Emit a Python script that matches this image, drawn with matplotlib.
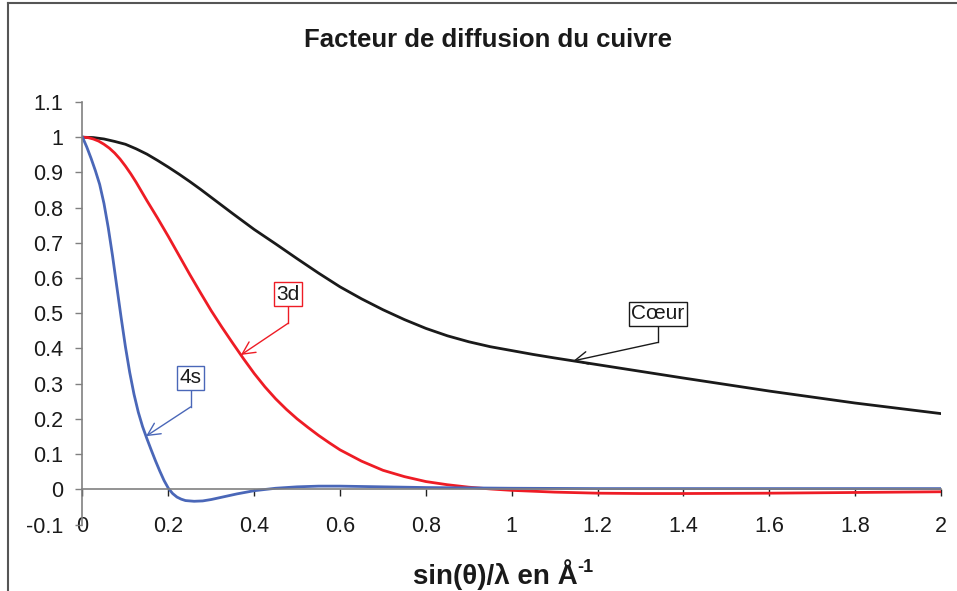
import numpy as np
import matplotlib
matplotlib.use("Agg")
import matplotlib.pyplot as plt
from matplotlib.lines import Line2D

plt.rcParams["font.family"] = ["Liberation Sans", "DejaVu Sans"]

# --- Data ---
x_coeur = [0, 0.025, 0.05, 0.075, 0.1, 0.125, 0.15, 0.175, 0.2, 0.225, 0.25,
           0.275, 0.3, 0.35, 0.4, 0.45, 0.5, 0.55, 0.6, 0.65, 0.7, 0.75, 0.8,
           0.85, 0.9, 0.95, 1.0, 1.05, 1.1, 1.2, 1.3, 1.4, 1.6, 1.8, 2.0]
f_coeur = [1.0, 0.999, 0.995, 0.988, 0.980, 0.967, 0.952, 0.934, 0.915, 0.895,
           0.874, 0.852, 0.829, 0.783, 0.738, 0.697, 0.655, 0.614, 0.575, 0.541,
           0.510, 0.482, 0.457, 0.436, 0.419, 0.405, 0.394, 0.383, 0.373, 0.354,
           0.335, 0.316, 0.279, 0.245, 0.215]

x_3d = [0, 0.0125, 0.025, 0.0375, 0.05, 0.0625, 0.075, 0.0875, 0.1, 0.1125,
        0.125, 0.1375, 0.15, 0.175, 0.2, 0.225, 0.25, 0.275, 0.3, 0.325, 0.35,
        0.375, 0.4, 0.425, 0.45, 0.475, 0.5, 0.525, 0.55, 0.575, 0.6, 0.65,
        0.7, 0.75, 0.8, 0.85, 0.9, 0.95, 1.0, 1.1, 1.2, 1.3, 1.4, 1.6, 1.8, 2.0]
f_3d = [1.0, 0.999, 0.995, 0.989, 0.980, 0.969, 0.955, 0.938, 0.918, 0.896,
        0.872, 0.846, 0.820, 0.770, 0.718, 0.664, 0.610, 0.558, 0.507, 0.460,
        0.415, 0.371, 0.329, 0.291, 0.257, 0.227, 0.200, 0.176, 0.153, 0.132,
        0.112, 0.080, 0.054, 0.036, 0.022, 0.013, 0.006, 0.001, -0.003, -0.008,
        -0.011, -0.012, -0.012, -0.011, -0.009, -0.007]

x_4s = [0, 0.01, 0.02, 0.03, 0.04, 0.05, 0.06, 0.07, 0.08, 0.09, 0.10, 0.11,
        0.12, 0.13, 0.14, 0.15, 0.16, 0.17, 0.18, 0.19, 0.20, 0.21, 0.22, 0.23,
        0.24, 0.26, 0.28, 0.30, 0.33, 0.36, 0.40, 0.45, 0.50, 0.55, 0.60, 0.70,
        0.80, 1.0, 1.2, 1.5, 2.0]
f_4s = [1.0, 0.972, 0.940, 0.905, 0.866, 0.812, 0.743, 0.663, 0.575, 0.488,
        0.405, 0.332, 0.270, 0.219, 0.178, 0.144, 0.112, 0.081, 0.052, 0.025,
        0.003, -0.012, -0.022, -0.028, -0.032, -0.034, -0.033, -0.029, -0.021,
        -0.013, -0.004, 0.003, 0.007, 0.009, 0.009, 0.007, 0.005, 0.003, 0.002,
        0.002, 0.002]

xticks = [0, 0.2, 0.4, 0.6, 0.8, 1.0, 1.2, 1.4, 1.6, 1.8, 2.0]
xtick_labels = ["0", "0.2", "0.4", "0.6", "0.8", "1", "1.2", "1.4", "1.6", "1.8", "2"]
yticks = [-0.1, 0, 0.1, 0.2, 0.3, 0.4, 0.5, 0.6, 0.7, 0.8, 0.9, 1.0, 1.1]
ytick_labels = ["-0.1", "0", "0.1", "0.2", "0.3", "0.4", "0.5", "0.6", "0.7",
                "0.8", "0.9", "1", "1.1"]

# --- Style ---
c_coeur = "#1a1a1a"
c_3d = "#ee1c25"
c_4s = "#4a67b8"

fig = plt.figure(figsize=(9.57, 5.91), dpi=100)
ax = fig.add_axes([0.0862, 0.1125, 0.8971, 0.7149])

ax.plot(x_coeur, f_coeur, color=c_coeur, lw=2.0, solid_joinstyle="round")
ax.plot(x_3d, f_3d, color=c_3d, lw=2.0, solid_joinstyle="round")
ax.plot(x_4s, f_4s, color=c_4s, lw=2.0, solid_joinstyle="round")

ax.set_xlim(0, 2)
ax.set_ylim(-0.1, 1.1)

for s in ["top", "right"]:
    ax.spines[s].set_visible(False)
ax.spines["left"].set_color("#808080")
ax.spines["left"].set_linewidth(1.2)
ax.spines["bottom"].set_position(("data", 0))
ax.spines["bottom"].set_color("#808080")
ax.spines["bottom"].set_linewidth(1.2)

ax.set_xticks(xticks)
ax.set_xticklabels(xtick_labels)
ax.set_yticks(yticks)
ax.set_yticklabels(ytick_labels)
ax.tick_params(axis="x", direction="out", length=5, width=1, color="#222222",
               labelsize=15.5, pad=14, labelcolor="#1a1a1a")
ax.tick_params(axis="y", direction="out", length=5, width=1, color="#808080",
               labelsize=15.5, pad=9, labelcolor="#1a1a1a")

# --- Labels with boxes and arrows ---
labels = [
    ("Cœur", c_coeur, (1.340, 0.498), 0.417, 1.1435, x_coeur, f_coeur),
    ("3d", c_3d, (0.4795, 0.554), 0.472, 0.369, x_3d, f_3d),
    ("4s", c_4s, (0.252, 0.317), 0.234, 0.148, x_4s, f_4s),
]
for txt, col, (tx, ty), corner_y, tip_x, xs, ys in labels:
    tip_y = np.interp(tip_x, xs, ys)
    ax.plot([tx, tx], [ty, corner_y], color=col, lw=1.0, zorder=4)
    ax.annotate("", xy=(tip_x, tip_y), xytext=(tx, corner_y),
                arrowprops=dict(arrowstyle="->,head_length=0.6,head_width=0.3",
                                color=col, lw=1.0, mutation_scale=15,
                                shrinkA=0, shrinkB=0), zorder=4)
    ax.text(tx, ty, txt, ha="center", va="center", fontsize=15,
            color="#1a1a1a", zorder=6,
            bbox=dict(boxstyle="square,pad=0.12", fc="white", ec=col, lw=1.0))

fig.text(0.510, 0.921, "Facteur de diffusion du cuivre", ha="center",
         va="baseline", fontsize=18.5, fontweight="bold", color="#1a1a1a")
xl = fig.text(0.518, 0.011, "sin(θ)/λ en Å", ha="center", va="baseline",
              fontsize=20, fontweight="bold", color="#1a1a1a")
renderer = fig.canvas.get_renderer()
bb = xl.get_window_extent(renderer)
fig.text((bb.x1 - 1) / 957, 0.011 + 12 / 591, "-1", ha="left", va="baseline",
         fontsize=13, fontweight="bold", color="#1a1a1a")

# --- Outer frame (top and left edges) ---
fig.add_artist(Line2D([8 / 957, 8 / 957], [0, 1 - 3 / 591],
                      transform=fig.transFigure, color="#555555", lw=1.5))
fig.add_artist(Line2D([8 / 957, 1], [1 - 3 / 591, 1 - 3 / 591],
                      transform=fig.transFigure, color="#555555", lw=1.5))

fig.savefig("out.png", dpi=100)
plt.close(fig)
